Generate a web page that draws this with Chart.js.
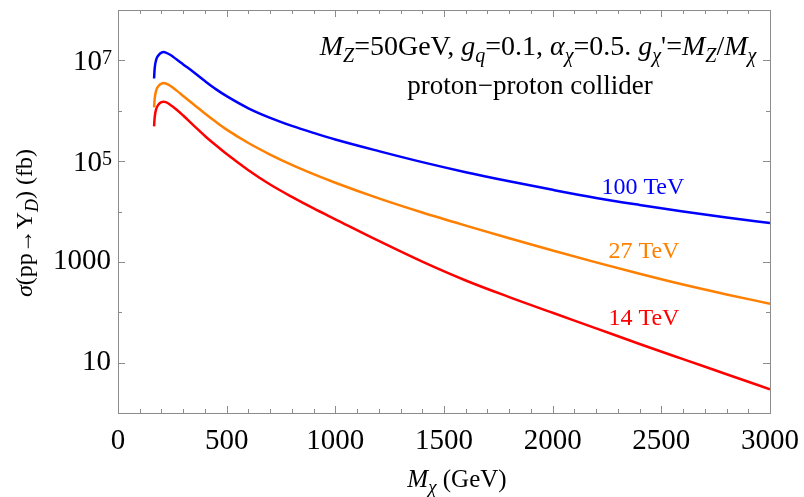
<!DOCTYPE html>
<html>
<head>
<meta charset="utf-8">
<script src="https://cdn.jsdelivr.net/npm/chart.js@4/dist/chart.umd.min.js"></script>
<style>
  html, body { margin: 0; padding: 0; background: #fff; }
  #wrap { width: 804px; height: 497px; }
</style>
</head>
<body>
<div id="wrap"><canvas id="chart"></canvas></div>
<script>
// dark matter mass (GeV) and cross sections (fb)
const massGeV = [166, 168, 171, 175, 180, 190, 200, 210, 220, 240, 270, 300, 350, 400, 450, 500, 600, 700, 800, 900, 1000, 1200, 1400, 1600, 1800, 2000, 2200, 2400, 2600, 2800, 3000];
const sigma100 = [4.37e6, 6.31e6, 8.32e6, 1.00e7, 1.15e7, 1.32e7, 1.43e7, 1.46e7, 1.43e7, 1.29e7, 1.04e7, 8.32e6, 5.75e6, 3.89e6, 2.69e6, 1.95e6, 1.12e6, 7.24e5, 5.01e5, 3.63e5, 2.69e5, 1.58e5, 9.55e4, 6.03e4, 3.98e4, 2.69e4, 1.86e4, 1.35e4, 1.00e4, 7.59e3, 5.89e3];
const sigma27 = [1.17e6, 1.58e6, 2.04e6, 2.45e6, 2.82e6, 3.24e6, 3.47e6, 3.55e6, 3.47e6, 3.13e6, 2.51e6, 1.97e6, 1.32e6, 8.81e5, 6.03e5, 4.22e5, 2.29e5, 1.35e5, 8.41e4, 5.50e4, 3.72e4, 1.82e4, 9.55e3, 5.25e3, 2.95e3, 1.68e3, 977, 582, 355, 226, 148];
const sigma14 = [4.90e5, 6.76e5, 8.71e5, 1.05e6, 1.20e6, 1.38e6, 1.48e6, 1.51e6, 1.48e6, 1.32e6, 1.05e6, 8.04e5, 5.01e5, 3.16e5, 2.07e5, 1.38e5, 6.61e4, 3.43e4, 1.95e4, 1.15e4, 7.00e3, 2.60e3, 1.01e3, 427, 200, 97.7, 47.9, 23.4, 11.7, 5.89, 2.95];

const seriesNames = ['100 TeV', '27 TeV', '14 TeV'];
const seriesColors = ['#0000ff', '#ff8000', '#ff0000'];
// where each curve label sits (x in GeV, y in fb)
const labelX = [2415, 2420, 2420];
const labelY = [2.2e4, 1.2e3, 57];

const yTickValues = [1, 10, 100, 1e3, 1e4, 1e5, 1e6, 1e7, 1e8];
const yTickText = { 10: '10', 1000: '1000' };
const yTickPow = { 100000: '5', 10000000: '7' };

const FONT = '"Liberation Serif", "Times New Roman", serif';

function pts(ys) {
  return massGeV.map((m, i) => ({ x: m, y: ys[i] }));
}

// draws text made of pieces: '' normal, 'i' italic, 'si' italic subscript
function drawRich(ctx, parts, x, y, size, align) {
  const fontFor = st => (st.includes('i') ? 'italic ' : '') + Math.round(st.includes('s') ? size * 0.74 : size) + 'px ' + FONT;
  let total = 0;
  parts.forEach(p => { ctx.font = fontFor(p[1]); total += ctx.measureText(p[0]).width; });
  let cx = align === 'center' ? x - total / 2 : x;
  ctx.textAlign = 'left';
  ctx.textBaseline = 'alphabetic';
  parts.forEach(p => {
    ctx.font = fontFor(p[1]);
    const dy = p[1].includes('s') ? size * 0.25 : 0;
    ctx.fillText(p[0], cx, y + dy);
    cx += ctx.measureText(p[0]).width;
  });
}

const framePlugin = {
  id: 'frame',
  beforeDatasetsDraw(chart) {
    const { ctx, chartArea: a, scales } = chart;
    ctx.save();
    ctx.strokeStyle = '#8c8c8c';
    ctx.lineWidth = 1;
    ctx.strokeRect(a.left + 0.5, a.top + 0.5, a.right - a.left, a.bottom - a.top);
    ctx.beginPath();
    scales.x.ticks.forEach(t => {
      const px = Math.round(scales.x.getPixelForValue(t.value)) + 0.5;
      const len = t.value % 500 === 0 ? 7 : 4;
      ctx.moveTo(px, a.bottom); ctx.lineTo(px, a.bottom - len);
      ctx.moveTo(px, a.top); ctx.lineTo(px, a.top + len);
    });
    scales.y.ticks.forEach(t => {
      const py = Math.round(scales.y.getPixelForValue(t.value)) + 0.5;
      const len = (yTickText[t.value] || yTickPow[t.value]) ? 7 : 4;
      ctx.moveTo(a.left, py); ctx.lineTo(a.left + len, py);
      ctx.moveTo(a.right, py); ctx.lineTo(a.right - len, py);
    });
    ctx.stroke();
    ctx.restore();
  },
  afterDraw(chart) {
    const { ctx, chartArea: a, scales } = chart;
    ctx.save();
    ctx.fillStyle = '#000';

    // 10^n tick labels with a real raised exponent
    Object.keys(yTickPow).forEach(v => {
      const py = scales.y.getPixelForValue(Number(v));
      ctx.textAlign = 'right';
      ctx.textBaseline = 'alphabetic';
      ctx.font = '20px ' + FONT;
      const ew = ctx.measureText(yTickPow[v]).width;
      ctx.fillText(yTickPow[v], a.left - 6, py + 4);
      ctx.font = '29px ' + FONT;
      ctx.fillText('10', a.left - 6 - ew, py + 10);
    });

    drawRich(ctx, [['M', 'i'], ['Z', 'si'], ['=50GeV, ', ''], ['g', 'i'], ['q', 'si'], ['=0.1, ', ''],
      ['α', 'i'], ['χ', 'si'], ['=0.5. ', ''], ['g', 'i'], ['χ', 'si'], ['\'=', ''], ['M', 'i'], ['Z', 'si'],
      ['/', ''], ['M', 'i'], ['χ', 'si']], 538, 55, 27.5, 'center');
    drawRich(ctx, [['proton−proton collider', '']], 530, 94, 27, 'center');

    // axis titles
    drawRich(ctx, [['M', 'i'], ['χ', 'si'], [' (GeV)', '']], 457, 487, 25, 'center');
    ctx.translate(32, 223);
    ctx.rotate(-Math.PI / 2);
    drawRich(ctx, [['σ', 'i'], ['(pp→Υ', ''], ['D', 'si'], [') (fb)', '']], 0, 0, 24, 'center');
    ctx.restore();

    // curve labels
    ctx.save();
    seriesNames.forEach((name, i) => {
      ctx.fillStyle = seriesColors[i];
      drawRich(ctx, [[name, '']], scales.x.getPixelForValue(labelX[i]), scales.y.getPixelForValue(labelY[i]), 24, 'center');
    });
    ctx.restore();
  }
};

new Chart(document.getElementById('chart'), {
  type: 'line',
  data: {
    datasets: [
      { label: seriesNames[0], data: pts(sigma100), borderColor: seriesColors[0] },
      { label: seriesNames[1], data: pts(sigma27), borderColor: seriesColors[1] },
      { label: seriesNames[2], data: pts(sigma14), borderColor: seriesColors[2] }
    ]
  },
  options: {
    responsive: true,
    maintainAspectRatio: false,
    animation: false,
    layout: { padding: { left: 0, right: 34, top: 10, bottom: 0 } },
    elements: {
      point: { radius: 0 },
      line: { borderWidth: 2.5, cubicInterpolationMode: 'monotone', fill: false }
    },
    plugins: { legend: { display: false }, tooltip: { enabled: false } },
    scales: {
      x: {
        type: 'linear',
        min: 0,
        max: 3000,
        grid: { display: false, drawTicks: false },
        border: { display: false },
        afterFit: s => { s.height = 84; s.paddingLeft = 0; s.paddingRight = 0; },
        ticks: {
          stepSize: 100,
          autoSkip: false,
          maxRotation: 0,
          padding: 11,
          color: '#000',
          font: { family: FONT, size: 29 },
          callback: v => (v % 500 === 0 ? String(v) : '')
        }
      },
      y: {
        type: 'logarithmic',
        min: 1,
        max: 1e8,
        grid: { display: false, drawTicks: false },
        border: { display: false },
        afterFit: s => { s.width = 118; s.paddingTop = 0; s.paddingBottom = 0; },
        afterBuildTicks: s => { s.ticks = yTickValues.map(v => ({ value: v })); },
        ticks: {
          autoSkip: false,
          padding: 7,
          color: '#000',
          font: { family: FONT, size: 29 },
          callback: v => yTickText[v] || ''
        }
      }
    }
  },
  plugins: [framePlugin]
});
</script>
</body>
</html>
